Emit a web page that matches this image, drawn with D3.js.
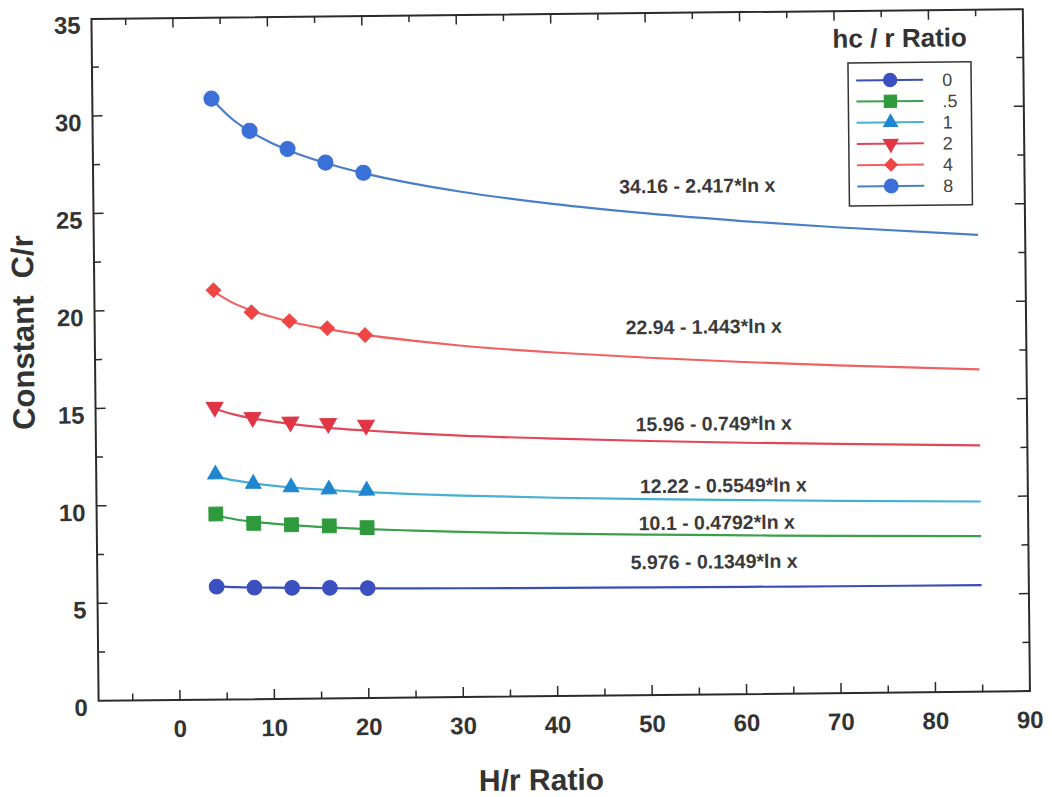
<!DOCTYPE html>
<html>
<head>
<meta charset="utf-8">
<script src="https://cdn.jsdelivr.net/npm/d3@7"></script>
<style>
  html, body { margin: 0; padding: 0; background: #ffffff; }
  svg { display: block; }
  text { font-family: "Liberation Sans", Arial, Helvetica, sans-serif; }
</style>
</head>
<body>
<svg id="chart" width="1052" height="797"></svg>
<script>
// ---------------- DATA ----------------
const seriesNames = ["0", ".5", "1", "2", "4", "8"];
const legendTitle = "hc / r Ratio";
const xTitle = "H/r Ratio";
const yTitle = "Constant  C/r";

const pointX = [4, 8, 12, 16, 20];
const points_0  = [5.79, 5.72, 5.69, 5.67, 5.64];
const points_05 = [9.52, 9.02, 8.93, 8.85, 8.74];
const points_1  = [11.55, 11.05, 10.85, 10.72, 10.64];
const points_2  = [15.0, 14.45, 14.2, 14.1, 14.0];
const points_4  = [21.0, 19.85, 19.37, 18.99, 18.62];
const points_8  = [30.82, 29.15, 28.2, 27.48, 26.94];

const curveX = [4, 6, 8, 10, 12, 16, 20, 25, 30, 40, 50, 60, 70, 85];
const curve_0  = [5.81, 5.76, 5.73, 5.71, 5.69, 5.65, 5.62, 5.6, 5.58, 5.55, 5.52, 5.5, 5.48, 5.46];
const curve_05 = [9.44, 9.24, 9.10, 9.00, 8.91, 8.77, 8.66, 8.56, 8.47, 8.33, 8.23, 8.14, 8.06, 7.97];
const curve_1  = [11.45, 11.23, 11.07, 10.94, 10.84, 10.68, 10.56, 10.43, 10.33, 10.17, 10.05, 9.95, 9.86, 9.75];
const curve_2  = [14.92, 14.62, 14.40, 14.24, 14.10, 13.88, 13.72, 13.55, 13.41, 13.20, 13.03, 12.89, 12.78, 12.63];
const curve_4  = [20.94, 20.35, 19.94, 19.62, 19.35, 18.94, 18.62, 18.30, 18.03, 17.62, 17.30, 17.03, 16.81, 16.53];
const curve_8  = [30.81, 29.83, 29.13, 28.59, 28.15, 27.46, 26.92, 26.38, 25.94, 25.24, 24.70, 24.26, 23.89, 23.42];

const equations = [
  "5.976 - 0.1349*ln x",
  "10.1 - 0.4792*ln x",
  "12.22 - 0.5549*ln x",
  "15.96 - 0.749*ln x",
  "22.94 - 1.443*ln x",
  "34.16 - 2.417*ln x"
];

const xTickLabels = [0, 10, 20, 30, 40, 50, 60, 70, 80, 90];
const xMinorTicks = [-5, 5, 15, 25, 35, 45, 55, 65, 75, 85];
const yTickLabels = [0, 5, 10, 15, 20, 25, 30, 35];
const yMinorTicks = [2.5, 7.5, 12.5, 17.5, 22.5, 27.5, 32.5];

// ---------------- LAYOUT / STYLE ----------------
const X0 = 95, X1 = 1026.4, Y0 = 696, Y1 = 13.5;
const xScale = d3.scaleLinear().domain([0, 90]).range([176.4, 1026.4]);
const yScale = d3.scaleLinear().domain([0, 35]).range([696, 13.5]);

const styles = [
  { color: "#3b4fc0", line: "#3a4fb5", shape: "circle",  size: 170, legSize: 140 },
  { color: "#2f9a3c", line: "#3aa04c", shape: "square",  size: 190, legSize: 150 },
  { color: "#1f86cf", line: "#45b0d4", shape: "triUp",   size: 105, legSize: 85 },
  { color: "#e03545", line: "#e04858", shape: "triDown", size: 120, legSize: 95 },
  { color: "#f04545", line: "#f06262", shape: "diamond", size: 105, legSize: 80 },
  { color: "#3a70d8", line: "#4a7fc6", shape: "circle",  size: 180, legSize: 150 }
];
const eqPos = [[712, 570], [715, 531], [722, 494], [713, 432], [704, 335], [699, 194]];

const pointsAll = [points_0, points_05, points_1, points_2, points_4, points_8];
const curvesAll = [curve_0, curve_05, curve_1, curve_2, curve_4, curve_8];

function symbolPath(shape, size) {
  let t = d3.symbolCircle;
  if (shape === "square" || shape === "diamond") t = d3.symbolSquare;
  if (shape === "triUp" || shape === "triDown") t = d3.symbolTriangle;
  return d3.symbol().type(t).size(size)();
}
function symbolRot(shape) {
  if (shape === "triDown") return " rotate(180)";
  if (shape === "diamond") return " rotate(45)";
  return "";
}

const svg = d3.select("#chart");
svg.append("rect").attr("width", 1052).attr("height", 797).attr("fill", "#ffffff");
const g = svg.append("g").attr("transform", "rotate(-0.6, 561, 355)");

const axisColor = "#2b2b2b";
const textColor = "#333333";

// frame
g.append("rect")
  .attr("x", X0).attr("y", Y1 + 0.5)
  .attr("width", X1 - X0).attr("height", Y0 - Y1 - 0.5)
  .attr("fill", "none").attr("stroke", axisColor).attr("stroke-width", 2);

// ticks (inward on all four sides)
const tickG = g.append("g").attr("stroke", axisColor).attr("stroke-width", 1.5);
xTickLabels.filter(v => v < 90).forEach(v => {
  tickG.append("line").attr("x1", xScale(v)).attr("x2", xScale(v)).attr("y1", Y0).attr("y2", Y0 - 10);
  tickG.append("line").attr("x1", xScale(v)).attr("x2", xScale(v)).attr("y1", Y1).attr("y2", Y1 + 10);
});
xMinorTicks.forEach(v => {
  tickG.append("line").attr("x1", xScale(v)).attr("x2", xScale(v)).attr("y1", Y0).attr("y2", Y0 - 7);
  tickG.append("line").attr("x1", xScale(v)).attr("x2", xScale(v)).attr("y1", Y1).attr("y2", Y1 + 7);
});
yTickLabels.filter(v => v > 0 && v < 35).forEach(v => {
  tickG.append("line").attr("x1", X0).attr("x2", X0 + 10).attr("y1", yScale(v)).attr("y2", yScale(v));
  tickG.append("line").attr("x1", X1).attr("x2", X1 - 10).attr("y1", yScale(v)).attr("y2", yScale(v));
});
yMinorTicks.forEach(v => {
  tickG.append("line").attr("x1", X0).attr("x2", X0 + 7).attr("y1", yScale(v)).attr("y2", yScale(v));
  tickG.append("line").attr("x1", X1).attr("x2", X1 - 7).attr("y1", yScale(v)).attr("y2", yScale(v));
});

// tick labels
g.append("g").selectAll("text").data(xTickLabels).join("text")
  .attr("x", d => xScale(d)).attr("y", Y0 + 37)
  .attr("text-anchor", "middle").attr("font-size", 24).attr("font-weight", "bold")
  .attr("fill", textColor).text(d => d);
g.append("g").selectAll("text").data(yTickLabels).join("text")
  .attr("x", X0 - 11).attr("y", d => yScale(d) + 15)
  .attr("text-anchor", "end").attr("font-size", 24).attr("font-weight", "bold")
  .attr("fill", textColor).text(d => d);

// axis titles
g.append("text").attr("x", 537).attr("y", 790)
  .attr("text-anchor", "middle").attr("font-size", 30).attr("font-weight", "bold")
  .attr("fill", textColor).text(xTitle);
g.append("text").attr("transform", "translate(34,327) rotate(-90)")
  .attr("text-anchor", "middle").attr("font-size", 31).attr("font-weight", "bold")
  .style("white-space", "pre")
  .attr("fill", textColor).text(yTitle);

// curves
const line = d3.line().x(d => xScale(d[0])).y(d => yScale(d[1])).curve(d3.curveMonotoneX);
curvesAll.forEach((c, i) => {
  g.append("path")
    .attr("d", line(curveX.map((x, j) => [x, c[j]])))
    .attr("fill", "none").attr("stroke", styles[i].line).attr("stroke-width", 2.2);
});

// points
pointsAll.forEach((p, i) => {
  const st = styles[i];
  g.append("g").selectAll("path").data(pointX.map((x, j) => [x, p[j]])).join("path")
    .attr("d", symbolPath(st.shape, st.size))
    .attr("transform", d => `translate(${xScale(d[0])},${yScale(d[1])})${symbolRot(st.shape)}`)
    .attr("fill", st.color).attr("stroke", st.color).attr("stroke-width", 1);
});

// equation labels
equations.forEach((t, i) => {
  g.append("text").attr("x", eqPos[i][0]).attr("y", eqPos[i][1])
    .attr("text-anchor", "middle").attr("font-size", 19.5).attr("font-weight", "bold")
    .attr("fill", "#3a3a3a").text(t);
});

// legend
g.append("text").attr("x", 903).attr("y", 50.5)
  .attr("text-anchor", "middle").attr("font-size", 26).attr("font-weight", "bold")
  .attr("fill", textColor).text(legendTitle);
g.append("rect").attr("x", 851).attr("y", 66).attr("width", 123).attr("height", 143)
  .attr("fill", "#ffffff").attr("stroke", "#333333").attr("stroke-width", 1.5);
seriesNames.forEach((name, i) => {
  const st = styles[i];
  const ly = 83.5 + i * 21.2;
  g.append("line").attr("x1", 859).attr("x2", 926).attr("y1", ly).attr("y2", ly)
    .attr("stroke", st.line).attr("stroke-width", 2);
  g.append("path").attr("d", symbolPath(st.shape, st.legSize))
    .attr("transform", `translate(893,${ly})${symbolRot(st.shape)}`)
    .attr("fill", st.color).attr("stroke", st.color).attr("stroke-width", 1);
  g.append("text").attr("x", 945).attr("y", ly + 6.5)
    .attr("font-size", 18).attr("fill", "#444444").text(name);
});
</script>
</body>
</html>
